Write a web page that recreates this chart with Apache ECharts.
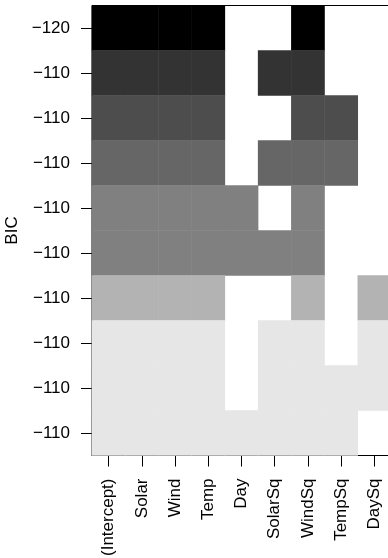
<!DOCTYPE html>
<html>
<head>
<meta charset="utf-8">
<script src="https://cdn.jsdelivr.net/npm/echarts@6/dist/echarts.min.js"></script>
<style>
html,body{margin:0;padding:0;background:#fff;}
#chart{width:388px;height:558px;}
</style>
</head>
<body>
<div id="chart"></div>
<script>
// variables (columns)
const variables = ['(Intercept)', 'Solar', 'Wind', 'Temp', 'Day', 'SolarSq', 'WindSq', 'TempSq', 'DaySq'];
// BIC tick labels, best model on top
const bicLabels = ['\u2212120', '\u2212110', '\u2212110', '\u2212110', '\u2212110', '\u2212110', '\u2212110', '\u2212110', '\u2212110', '\u2212110'];
// colour bin of each row's BIC (0 = darkest)
const bicLevel = [0, 2, 3, 4, 5, 5, 7, 9, 9, 9];
// which variables are in each model
const included = [
	[1, 1, 1, 1, 0, 0, 1, 0, 0],
	[1, 1, 1, 1, 0, 1, 1, 0, 0],
	[1, 1, 1, 1, 0, 0, 1, 1, 0],
	[1, 1, 1, 1, 0, 1, 1, 1, 0],
	[1, 1, 1, 1, 1, 0, 1, 0, 0],
	[1, 1, 1, 1, 1, 1, 1, 0, 0],
	[1, 1, 1, 1, 0, 0, 1, 0, 1],
	[1, 1, 1, 1, 0, 1, 1, 0, 1],
	[1, 1, 1, 1, 0, 1, 1, 1, 1],
	[1, 1, 1, 1, 1, 1, 1, 1, 0]
];

const rows = bicLabels.map((b, i) => String(i + 1));
const cells = [];
included.forEach((r, y) => {
	r.forEach((v, x) => {
		if (v) cells.push([x, y, bicLevel[y]]);
	});
});

const font = "'Liberation Sans', Arial, Helvetica, sans-serif";
const chart = echarts.init(document.getElementById('chart'));
chart.setOption({
	animation: false,
	backgroundColor: '#fff',
	grid: {
		left: 92, top: 5.5, width: 299, height: 450,
		containLabel: false, outerBoundsMode: 'none',
		show: true, borderColor: '#000', borderWidth: 1, backgroundColor: 'transparent'
	},
	xAxis: {
		type: 'category',
		data: variables,
		axisLine: {show: true, lineStyle: {color: '#000', width: 1}},
		axisTick: {show: true, alignWithLabel: true, length: 11, lineStyle: {color: '#000'}},
		axisLabel: {interval: 0, rotate: 90, margin: 23, fontSize: 17, color: '#000', fontFamily: font},
		splitLine: {show: false}
	},
	yAxis: {
		type: 'category',
		data: rows,
		inverse: true,
		name: 'BIC',
		nameLocation: 'middle',
		nameRotate: 90,
		nameGap: 66,
		nameTextStyle: {fontSize: 17, color: '#000', fontFamily: font},
		axisLine: {show: true, lineStyle: {color: '#000', width: 1}},
		axisTick: {show: true, alignWithLabel: true, length: 11, lineStyle: {color: '#000'}},
		axisLabel: {
			interval: 0, margin: 22, fontSize: 17, color: '#000', fontFamily: font,
			formatter: (v, i) => bicLabels[i]
		},
		splitLine: {show: false}
	},
	visualMap: {
		show: false,
		dimension: 2,
		min: 0,
		max: 9,
		inRange: {color: ['#000000', '#e6e6e6']}
	},
	series: [{
		type: 'heatmap',
		data: cells,
		itemStyle: {borderWidth: 0},
		emphasis: {disabled: true}
	}]
});
</script>
</body>
</html>
